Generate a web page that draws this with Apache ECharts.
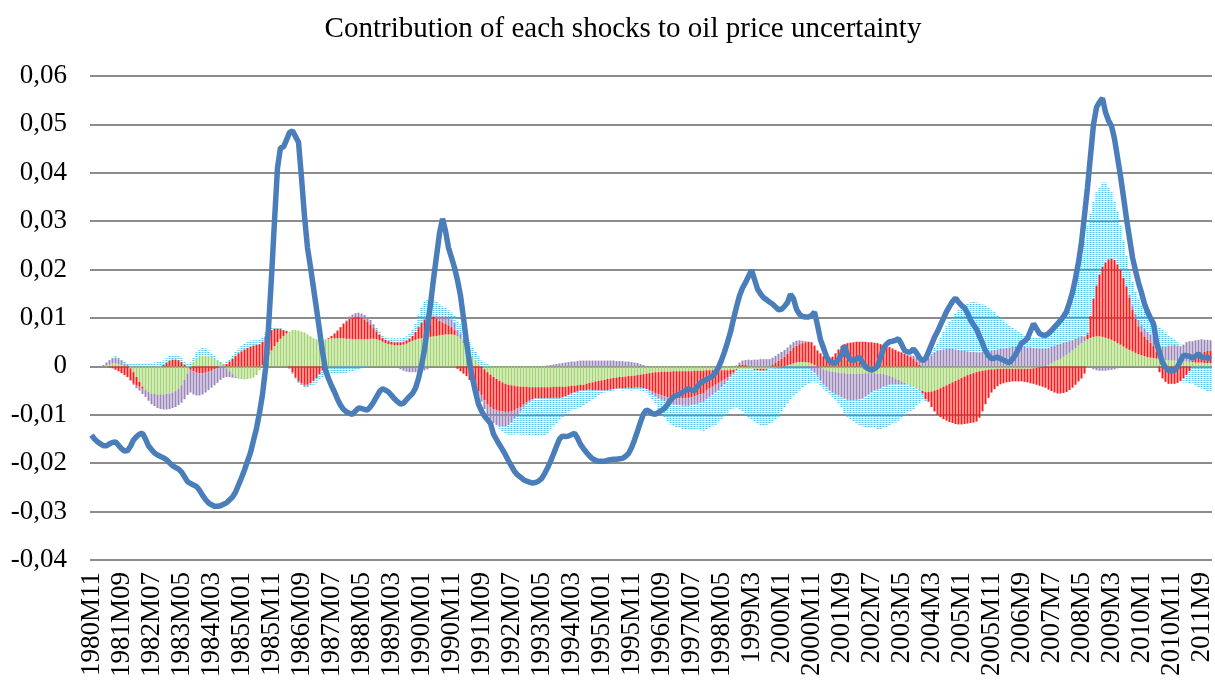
<!DOCTYPE html>
<html>
<head>
<meta charset="utf-8">
<title>Contribution of each shocks to oil price uncertainty</title>
<script src="https://cdn.jsdelivr.net/npm/echarts@6/dist/echarts.min.js"></script>
<style>
  html, body { margin: 0; padding: 0; background: #fff; }
  #chart { width: 1215px; height: 680px; }
</style>
</head>
<body>
<div id="chart"></div>
<script>
// monthly data, 1980M11 .. 2011M12 (374 months)
const firstYear = 1980;
const firstMonth = 11;
const monthCount = 374;

// total uncertainty (line)
const total = [
  -0.0142,-0.0150,-0.0156,-0.0160,-0.0164,-0.0164,-0.0160,-0.0157,-0.0156,-0.0163,
  -0.0170,-0.0175,-0.0174,-0.0165,-0.0152,-0.0145,-0.0140,-0.0138,-0.0150,-0.0164,
  -0.0172,-0.0179,-0.0183,-0.0186,-0.0189,-0.0193,-0.0199,-0.0205,-0.0209,-0.0212,
  -0.0218,-0.0228,-0.0238,-0.0242,-0.0245,-0.0248,-0.0256,-0.0266,-0.0275,-0.0282,
  -0.0286,-0.0289,-0.0289,-0.0288,-0.0285,-0.0282,-0.0276,-0.0270,-0.0260,-0.0245,
  -0.0230,-0.0214,-0.0196,-0.0178,-0.0153,-0.0128,-0.0096,-0.0058,-0.0005,0.0080,
  0.0185,0.0300,0.0410,0.0452,0.0453,0.0468,0.0483,0.0487,0.0475,0.0463,
  0.0390,0.0310,0.0245,0.0205,0.0162,0.0119,0.0075,0.0030,-0.0008,-0.0025,
  -0.0040,-0.0053,-0.0068,-0.0080,-0.0089,-0.0094,-0.0097,-0.0099,-0.0092,-0.0086,
  -0.0087,-0.0089,-0.0090,-0.0083,-0.0074,-0.0063,-0.0052,-0.0046,-0.0049,-0.0053,
  -0.0060,-0.0067,-0.0073,-0.0078,-0.0076,-0.0069,-0.0062,-0.0056,-0.0045,-0.0025,
  0.0002,0.0035,0.0083,0.0128,0.0180,0.0228,0.0275,0.0305,0.0280,0.0245,
  0.0225,0.0204,0.0178,0.0146,0.0100,0.0050,0.0008,-0.0025,-0.0053,-0.0078,
  -0.0092,-0.0103,-0.0110,-0.0118,-0.0140,-0.0151,-0.0162,-0.0172,-0.0183,-0.0195,
  -0.0206,-0.0217,-0.0224,-0.0229,-0.0234,-0.0237,-0.0239,-0.0241,-0.0240,-0.0237,
  -0.0232,-0.0222,-0.0210,-0.0196,-0.0181,-0.0165,-0.0150,-0.0144,-0.0145,-0.0144,
  -0.0141,-0.0138,-0.0148,-0.0161,-0.0170,-0.0178,-0.0185,-0.0191,-0.0194,-0.0196,
  -0.0196,-0.0196,-0.0194,-0.0193,-0.0192,-0.0192,-0.0191,-0.0190,-0.0186,-0.0180,
  -0.0168,-0.0152,-0.0134,-0.0115,-0.0098,-0.0090,-0.0093,-0.0098,-0.0099,-0.0095,
  -0.0091,-0.0087,-0.0079,-0.0070,-0.0063,-0.0060,-0.0057,-0.0054,-0.0050,-0.0046,
  -0.0049,-0.0050,-0.0041,-0.0034,-0.0030,-0.0027,-0.0024,-0.0020,-0.0013,-0.0002,
  0.0013,0.0030,0.0050,0.0071,0.0098,0.0123,0.0146,0.0162,0.0173,0.0186,
  0.0199,0.0180,0.0160,0.0150,0.0142,0.0138,0.0133,0.0129,0.0123,0.0117,
  0.0118,0.0124,0.0132,0.0149,0.0140,0.0118,0.0108,0.0103,0.0102,0.0102,
  0.0105,0.0112,0.0085,0.0055,0.0038,0.0020,0.0011,0.0007,0.0008,0.0014,
  0.0024,0.0043,0.0023,0.0014,0.0012,0.0016,0.0019,0.0008,-0.0001,-0.0005,
  -0.0008,-0.0005,0.0000,0.0018,0.0038,0.0046,0.0051,0.0052,0.0054,0.0057,
  0.0046,0.0033,0.0030,0.0030,0.0036,0.0028,0.0018,0.0012,0.0016,0.0030,
  0.0045,0.0060,0.0072,0.0086,0.0099,0.0113,0.0124,0.0134,0.0141,0.0133,
  0.0126,0.0121,0.0110,0.0096,0.0086,0.0077,0.0062,0.0048,0.0032,0.0022,
  0.0016,0.0017,0.0019,0.0016,0.0013,0.0010,0.0008,0.0015,0.0024,0.0036,
  0.0048,0.0052,0.0058,0.0073,0.0088,0.0078,0.0068,0.0065,0.0064,0.0068,
  0.0074,0.0081,0.0088,0.0095,0.0103,0.0113,0.0132,0.0153,0.0182,0.0215,
  0.0256,0.0312,0.0370,0.0435,0.0500,0.0535,0.0546,0.0554,0.0525,0.0508,
  0.0497,0.0470,0.0432,0.0393,0.0350,0.0305,0.0265,0.0225,0.0198,0.0173,
  0.0152,0.0129,0.0113,0.0100,0.0088,0.0050,0.0028,0.0008,-0.0002,-0.0008,
  -0.0010,-0.0008,-0.0001,0.0012,0.0023,0.0022,0.0021,0.0017,0.0021,0.0026,
  0.0019,0.0018,0.0019,0.0014
];

// shock contributions (stacked bars)
const greenShock = [
  0,0,0,0,0,0.0002,0.0004,0.0006,0.0006,0.0005,
  0.0003,0.0001,0,-0.0004,-0.0012,-0.0022,-0.0032,-0.0042,-0.0049,-0.0053,
  -0.0056,-0.0057,-0.0058,-0.0058,-0.0058,-0.0057,-0.0056,-0.0054,-0.0051,-0.0046,
  -0.0039,-0.0028,-0.0015,-0.0002,0.0009,0.0016,0.0020,0.0022,0.0022,0.0021,
  0.0019,0.0016,0.0012,0.0007,0.0002,-0.0004,-0.0010,-0.0016,-0.0021,-0.0024,
  -0.0026,-0.0027,-0.0026,-0.0025,-0.0023,-0.0018,-0.0008,0.0003,0.0013,0.0023,
  0.0033,0.0042,0.0050,0.0057,0.0063,0.0068,0.0072,0.0075,0.0075,0.0074,
  0.0072,0.0070,0.0066,0.0062,0.0058,0.0056,0.0055,0.0055,0.0056,0.0057,
  0.0058,0.0058,0.0058,0.0058,0.0058,0.0057,0.0057,0.0056,0.0056,0.0056,
  0.0056,0.0056,0.0056,0.0057,0.0057,0.0056,0.0054,0.0051,0.0048,0.0046,
  0.0045,0.0044,0.0044,0.0044,0.0045,0.0047,0.0050,0.0053,0.0055,0.0057,
  0.0058,0.0059,0.0060,0.0061,0.0062,0.0063,0.0064,0.0065,0.0066,0.0066,
  0.0066,0.0065,0.0062,0.0057,0.0048,0.0038,0.0028,0.0020,0.0012,0.0006,
  0,-0.0006,-0.0012,-0.0017,-0.0022,-0.0026,-0.0030,-0.0033,-0.0036,-0.0038,
  -0.0039,-0.0040,-0.0041,-0.0042,-0.0042,-0.0042,-0.0043,-0.0043,-0.0043,-0.0043,
  -0.0043,-0.0043,-0.0043,-0.0043,-0.0042,-0.0042,-0.0042,-0.0042,-0.0042,-0.0041,
  -0.0040,-0.0040,-0.0039,-0.0038,-0.0038,-0.0036,-0.0034,-0.0033,-0.0031,-0.0030,
  -0.0029,-0.0028,-0.0026,-0.0025,-0.0024,-0.0023,-0.0022,-0.0022,-0.0021,-0.0020,
  -0.0020,-0.0019,-0.0018,-0.0017,-0.0016,-0.0015,-0.0014,-0.0013,-0.0012,-0.0012,
  -0.0011,-0.0011,-0.0011,-0.0011,-0.0010,-0.0010,-0.0010,-0.0010,-0.0010,-0.0010,
  -0.0010,-0.0009,-0.0009,-0.0009,-0.0009,-0.0008,-0.0008,-0.0008,-0.0008,-0.0008,
  -0.0008,-0.0008,-0.0008,-0.0007,-0.0007,-0.0006,-0.0006,-0.0006,-0.0006,-0.0006,
  -0.0005,-0.0005,-0.0005,-0.0005,-0.0005,-0.0005,-0.0004,-0.0004,-0.0003,-0.0002,
  -0.0001,0,0.0002,0.0004,0.0006,0.0008,0.0009,0.0009,0.0009,0.0008,
  0.0006,0.0003,0,-0.0003,-0.0006,-0.0008,-0.0010,-0.0011,-0.0012,-0.0013,
  -0.0014,-0.0014,-0.0015,-0.0015,-0.0015,-0.0015,-0.0015,-0.0015,-0.0014,-0.0014,
  -0.0014,-0.0014,-0.0015,-0.0015,-0.0016,-0.0018,-0.0020,-0.0022,-0.0025,-0.0028,
  -0.0031,-0.0034,-0.0037,-0.0040,-0.0043,-0.0046,-0.0049,-0.0051,-0.0053,-0.0053,
  -0.0052,-0.0050,-0.0048,-0.0045,-0.0042,-0.0039,-0.0036,-0.0033,-0.0030,-0.0027,
  -0.0024,-0.0021,-0.0018,-0.0016,-0.0014,-0.0012,-0.0010,-0.0009,-0.0008,-0.0007,
  -0.0006,-0.0006,-0.0005,-0.0005,-0.0005,-0.0005,-0.0005,-0.0005,-0.0005,-0.0005,
  -0.0005,-0.0005,-0.0005,-0.0005,-0.0004,-0.0003,-0.0002,-0.0001,0,0.0003,
  0.0006,0.0010,0.0013,0.0016,0.0020,0.0024,0.0028,0.0033,0.0038,0.0043,
  0.0048,0.0052,0.0056,0.0059,0.0061,0.0062,0.0062,0.0061,0.0059,0.0057,
  0.0055,0.0052,0.0048,0.0045,0.0041,0.0037,0.0034,0.0031,0.0028,0.0025,
  0.0023,0.0021,0.0019,0.0018,0.0017,0.0016,0.0015,0.0014,0.0013,0.0013,
  0.0012,0.0012,0.0011,0.0011,0.0010,0.0010,0.0009,0.0009,0.0008,0.0008,
  0.0008,0.0007,0.0007,0.0007
];

const redShock = [
  0,0,0,0,0,0,-0.0002,-0.0004,-0.0007,-0.0010,
  -0.0014,-0.0018,-0.0022,-0.0025,-0.0024,-0.0018,-0.0010,-0.0004,0,0,
  0,0,0,0,0.0003,0.0008,0.0012,0.0014,0.0014,0.0013,
  0.0009,0.0004,0,-0.0005,-0.0010,-0.0013,-0.0014,-0.0014,-0.0013,-0.0011,
  -0.0009,-0.0006,-0.0003,0,0.0002,0.0005,0.0010,0.0016,0.0022,0.0027,
  0.0031,0.0035,0.0038,0.0041,0.0043,0.0044,0.0046,0.0048,0.0048,0.0046,
  0.0042,0.0036,0.0028,0.0020,0.0012,0.0005,-0.0003,-0.0012,-0.0022,-0.0030,
  -0.0035,-0.0038,-0.0038,-0.0035,-0.0030,-0.0024,-0.0016,-0.0008,-0.0002,0.0002,
  0.0005,0.0010,0.0016,0.0023,0.0030,0.0036,0.0041,0.0044,0.0046,0.0046,
  0.0044,0.0041,0.0037,0.0030,0.0022,0.0015,0.0011,0.0008,0.0007,0.0006,
  0.0006,0.0006,0.0006,0.0006,0.0006,0.0007,0.0008,0.0010,0.0016,0.0024,
  0.0032,0.0038,0.0041,0.0042,0.0041,0.0036,0.0030,0.0026,0.0023,0.0019,
  0.0015,0.0010,-0.0005,-0.0010,-0.0015,-0.0020,-0.0028,-0.0036,-0.0044,-0.0052,
  -0.0059,-0.0064,-0.0067,-0.0068,-0.0067,-0.0065,-0.0062,-0.0060,-0.0058,-0.0056,
  -0.0053,-0.0050,-0.0046,-0.0042,-0.0037,-0.0032,-0.0028,-0.0025,-0.0023,-0.0023,
  -0.0023,-0.0023,-0.0023,-0.0023,-0.0023,-0.0023,-0.0023,-0.0022,-0.0020,-0.0018,
  -0.0016,-0.0014,-0.0013,-0.0012,-0.0012,-0.0013,-0.0014,-0.0016,-0.0018,-0.0020,
  -0.0021,-0.0022,-0.0023,-0.0023,-0.0023,-0.0023,-0.0023,-0.0024,-0.0024,-0.0024,
  -0.0025,-0.0025,-0.0026,-0.0027,-0.0029,-0.0032,-0.0035,-0.0039,-0.0043,-0.0046,
  -0.0049,-0.0051,-0.0053,-0.0054,-0.0055,-0.0056,-0.0056,-0.0056,-0.0056,-0.0055,
  -0.0054,-0.0053,-0.0051,-0.0049,-0.0046,-0.0042,-0.0038,-0.0034,-0.0030,-0.0026,
  -0.0022,-0.0018,-0.0014,-0.0010,-0.0006,-0.0002,0.0003,0.0004,0.0003,0.0002,
  0,-0.0002,-0.0003,-0.0004,-0.0004,-0.0002,0,0.0003,0.0007,0.0012,
  0.0016,0.0020,0.0024,0.0028,0.0032,0.0035,0.0037,0.0039,0.0041,0.0043,
  0.0044,0.0040,0.0033,0.0027,0.0021,0.0017,0.0016,0.0020,0.0027,0.0035,
  0.0042,0.0046,0.0048,0.0049,0.0050,0.0051,0.0051,0.0051,0.0051,0.0050,
  0.0050,0.0049,0.0048,0.0046,0.0044,0.0042,0.0040,0.0037,0.0034,0.0031,
  0.0029,0.0026,0.0023,0.0020,0.0016,0.0010,0.0003,-0.0005,-0.0015,-0.0020,
  -0.0032,-0.0043,-0.0052,-0.0060,-0.0067,-0.0073,-0.0079,-0.0084,-0.0089,-0.0093,
  -0.0096,-0.0098,-0.0100,-0.0101,-0.0102,-0.0102,-0.0096,-0.0084,-0.0070,-0.0058,
  -0.0048,-0.0041,-0.0036,-0.0032,-0.0030,-0.0028,-0.0027,-0.0026,-0.0026,-0.0026,
  -0.0026,-0.0027,-0.0028,-0.0030,-0.0032,-0.0035,-0.0038,-0.0041,-0.0044,-0.0048,
  -0.0051,-0.0054,-0.0056,-0.0056,-0.0055,-0.0053,-0.0049,-0.0044,-0.0038,-0.0031,
  -0.0025,-0.0015,0.0010,0.0045,0.0079,0.0105,0.0128,0.0145,0.0156,0.0164,
  0.0168,0.0168,0.0163,0.0154,0.0142,0.0127,0.0108,0.0086,0.0070,0.0058,
  0.0048,0.0041,0.0036,0.0031,0.0025,0.0015,-0.0012,-0.0025,-0.0032,-0.0036,
  -0.0036,-0.0036,-0.0034,-0.0030,-0.0025,-0.0018,-0.0010,0.0003,0.0010,0.0015,
  0.0020,0.0023,0.0025,0.0025
];

const purpleShock = [
  0,0,0,0,0.0003,0.0006,0.0009,0.0011,0.0012,0.0010,
  0.0008,0.0005,0.0003,0,-0.0002,-0.0005,-0.0008,-0.0011,-0.0014,-0.0018,
  -0.0022,-0.0025,-0.0028,-0.0030,-0.0031,-0.0032,-0.0032,-0.0032,-0.0033,-0.0034,
  -0.0036,-0.0040,-0.0044,-0.0047,-0.0048,-0.0047,-0.0046,-0.0044,-0.0041,-0.0038,
  -0.0035,-0.0033,-0.0031,-0.0028,-0.0024,-0.0018,-0.0012,-0.0007,-0.0003,-0.0001,
  0,0,0,0,0,0,0,0,0,0,
  0,0,0,0,0,0,-0.0002,-0.0003,-0.0003,-0.0003,
  -0.0003,-0.0003,-0.0002,0,0,0,0,0,0,0,
  0,0,0,0,0.0001,0.0002,0.0005,0.0007,0.0008,0.0009,
  0.0009,0.0009,0.0008,0.0009,0.0008,0.0005,0.0002,0,0,0,
  0,0,-0.0003,-0.0006,-0.0009,-0.0011,-0.0012,-0.0012,-0.0012,-0.0011,
  -0.0010,-0.0008,-0.0006,-0.0003,0.0002,0.0006,0.0010,0.0013,0.0015,0.0016,
  0.0016,0.0015,0.0013,0.0011,0.0008,0.0005,0.0002,-0.0002,-0.0006,-0.0010,
  -0.0014,-0.0018,-0.0021,-0.0025,-0.0028,-0.0030,-0.0031,-0.0031,-0.0030,-0.0027,
  -0.0023,-0.0018,-0.0013,-0.0009,-0.0006,-0.0004,-0.0002,0,0,0,
  0,0.0001,0.0002,0.0003,0.0004,0.0005,0.0006,0.0007,0.0008,0.0009,
  0.0010,0.0010,0.0011,0.0012,0.0012,0.0012,0.0012,0.0012,0.0012,0.0012,
  0.0012,0.0012,0.0012,0.0012,0.0012,0.0011,0.0011,0.0011,0.0010,0.0010,
  0.0009,0.0008,0.0007,0.0005,0.0003,0.0001,-0.0003,-0.0005,-0.0007,-0.0008,
  -0.0009,-0.0010,-0.0011,-0.0012,-0.0013,-0.0014,-0.0014,-0.0015,-0.0015,-0.0016,
  -0.0016,-0.0017,-0.0017,-0.0017,-0.0018,-0.0018,-0.0018,-0.0017,-0.0016,-0.0015,
  -0.0013,-0.0011,-0.0008,-0.0005,-0.0002,0.0002,0.0005,0.0008,0.0010,0.0012,
  0.0013,0.0014,0.0014,0.0015,0.0015,0.0015,0.0015,0.0015,0.0015,0.0014,
  0.0014,0.0014,0.0013,0.0013,0.0012,0.0010,0.0008,0.0005,0.0002,-0.0002,
  -0.0007,-0.0013,-0.0019,-0.0025,-0.0030,-0.0035,-0.0039,-0.0042,-0.0045,-0.0047,
  -0.0050,-0.0053,-0.0054,-0.0055,-0.0055,-0.0054,-0.0053,-0.0051,-0.0048,-0.0044,
  -0.0040,-0.0036,-0.0033,-0.0030,-0.0026,-0.0022,-0.0018,-0.0015,-0.0012,-0.0009,
  -0.0006,-0.0003,0,0.0003,0.0006,0.0009,0.0012,0.0014,0.0016,0.0018,
  0.0023,0.0028,0.0032,0.0034,0.0035,0.0036,0.0036,0.0036,0.0035,0.0034,
  0.0033,0.0032,0.0031,0.0030,0.0030,0.0029,0.0029,0.0030,0.0031,0.0032,
  0.0033,0.0034,0.0035,0.0036,0.0037,0.0038,0.0039,0.0040,0.0040,0.0040,
  0.0040,0.0040,0.0039,0.0039,0.0038,0.0038,0.0037,0.0037,0.0036,0.0035,
  0.0034,0.0033,0.0032,0.0031,0.0029,0.0027,0.0024,0.0021,0.0019,0.0017,
  0.0015,0.0010,0.0003,-0.0003,-0.0006,-0.0008,-0.0009,-0.0009,-0.0009,-0.0008,
  -0.0007,-0.0006,-0.0004,-0.0002,0,0.0003,0.0006,0.0009,0.0011,0.0013,
  0.0014,0.0015,0.0016,0.0017,0.0019,0.0021,0.0024,0.0026,0.0028,0.0030,
  0.0031,0.0032,0.0032,0.0030,0.0035,0.0040,0.0043,0.0040,0.0036,0.0032,
  0.0028,0.0025,0.0023,0.0022
];

const blueShock = [
  0,0,0,0,0,0,0,0.0003,0.0003,0.0003,
  0.0003,0.0004,0.0004,0.0005,0.0005,0.0005,0.0005,0.0005,0.0006,0.0006,
  0.0007,0.0008,0.0009,0.0009,0.0009,0.0009,0.0010,0.0010,0.0010,0.0009,
  0.0008,0.0007,0.0007,0.0008,0.0010,0.0013,0.0015,0.0016,0.0015,0.0012,
  0.0009,0.0006,0.0004,0.0003,0.0003,0.0004,0.0005,0.0006,0.0008,0.0010,
  0.0011,0.0012,0.0012,0.0012,0.0011,0.0010,0.0010,0.0010,0.0009,0.0008,
  0.0006,0.0004,0.0003,0.0002,0.0001,0.0001,0,0,0,-0.0001,
  -0.0002,-0.0003,-0.0004,-0.0006,-0.0008,-0.0010,-0.0012,-0.0014,-0.0015,-0.0016,
  -0.0016,-0.0016,-0.0016,-0.0015,-0.0014,-0.0013,-0.0012,-0.0010,-0.0008,-0.0006,
  -0.0004,-0.0002,0,0,0.0002,0.0004,0.0005,0.0006,0.0006,0.0006,
  0.0007,0.0008,0.0008,0.0008,0.0008,0.0008,0.0009,0.0012,0.0018,0.0026,
  0.0033,0.0037,0.0038,0.0036,0.0033,0.0028,0.0024,0.0020,0.0017,0.0015,
  0.0014,0.0015,0.0017,0.0019,0.0021,0.0023,0.0023,0.0020,0.0018,0.0015,
  0.0012,0.0008,0.0005,0.0002,0,-0.0003,-0.0006,-0.0010,-0.0015,-0.0020,
  -0.0026,-0.0033,-0.0040,-0.0048,-0.0056,-0.0063,-0.0069,-0.0073,-0.0076,-0.0078,
  -0.0078,-0.0076,-0.0072,-0.0066,-0.0059,-0.0052,-0.0046,-0.0041,-0.0038,-0.0036,
  -0.0035,-0.0035,-0.0035,-0.0034,-0.0032,-0.0029,-0.0025,-0.0020,-0.0015,-0.0010,
  -0.0006,-0.0004,-0.0003,-0.0003,-0.0003,-0.0003,-0.0003,-0.0004,-0.0004,-0.0005,
  -0.0005,-0.0005,-0.0005,-0.0006,-0.0006,-0.0007,-0.0010,-0.0013,-0.0016,-0.0022,
  -0.0028,-0.0034,-0.0040,-0.0043,-0.0045,-0.0046,-0.0047,-0.0048,-0.0049,-0.0050,
  -0.0050,-0.0052,-0.0054,-0.0057,-0.0060,-0.0062,-0.0064,-0.0065,-0.0067,-0.0067,
  -0.0066,-0.0066,-0.0066,-0.0068,-0.0072,-0.0076,-0.0082,-0.0088,-0.0094,-0.0099,
  -0.0104,-0.0108,-0.0110,-0.0112,-0.0113,-0.0114,-0.0114,-0.0112,-0.0108,-0.0102,
  -0.0093,-0.0084,-0.0076,-0.0069,-0.0062,-0.0056,-0.0050,-0.0045,-0.0039,-0.0033,
  -0.0026,-0.0020,-0.0015,-0.0012,-0.0010,-0.0009,-0.0009,-0.0010,-0.0013,-0.0018,
  -0.0022,-0.0029,-0.0035,-0.0040,-0.0045,-0.0049,-0.0053,-0.0058,-0.0063,-0.0068,
  -0.0073,-0.0077,-0.0081,-0.0084,-0.0085,-0.0085,-0.0084,-0.0082,-0.0079,-0.0075,
  -0.0070,-0.0064,-0.0058,-0.0052,-0.0045,-0.0036,-0.0026,-0.0014,-0.0005,0.0003,
  0.0006,0.0011,0.0017,0.0027,0.0037,0.0047,0.0057,0.0066,0.0074,0.0082,
  0.0089,0.0095,0.0099,0.0102,0.0103,0.0103,0.0101,0.0098,0.0094,0.0089,
  0.0083,0.0078,0.0071,0.0064,0.0058,0.0052,0.0046,0.0040,0.0036,0.0032,
  0.0028,0.0025,0.0023,0.0022,0.0022,0.0022,0.0024,0.0026,0.0029,0.0030,
  0.0030,0.0037,0.0045,0.0053,0.0063,0.0074,0.0088,0.0101,0.0113,0.0135,
  0.0167,0.0198,0.0221,0.0211,0.0200,0.0193,0.0180,0.0174,0.0165,0.0149,
  0.0137,0.0120,0.0109,0.0091,0.0077,0.0063,0.0052,0.0049,0.0046,0.0044,
  0.0040,0.0038,0.0034,0.0032,0.0031,0.0034,0.0041,0.0035,0.0029,0.0022,
  0.0017,0.0011,0.0007,0.0004,-0.0008,-0.0015,-0.0024,-0.0034,-0.0040,-0.0043,
  -0.0046,-0.0049,-0.0051,-0.0053
];

// month labels: zero-padded before 1999, plain after
const months = [];
for (let k = 0; k < monthCount; k++) {
  const m0 = firstMonth - 1 + k;
  const y = firstYear + Math.floor(m0 / 12);
  const m = (m0 % 12) + 1;
  const mm = (y < 1999 && m < 10) ? '0' + m : String(m);
  months.push(y + 'M' + mm);
}

const yTicks = { min: -0.04, max: 0.06, step: 0.01 };

// dotted fill for the light-blue shock
const dots = document.createElement('canvas');
dots.width = 2;
dots.height = 2;
const dctx = dots.getContext('2d');
dctx.fillStyle = '#45c6f2';
dctx.fillRect(0, 0, 2, 1);

const serif = 'Liberation Serif';

const chart = echarts.init(document.getElementById('chart'));

const barSeries = (name, data, color) => ({
  name: name,
  type: 'bar',
  stack: 'shocks',
  data: data,
  barWidth: 2,
  itemStyle: { color: color },
  emphasis: { disabled: true }
});

chart.setOption({
  animation: false,
  backgroundColor: '#fff',
  title: {
    text: 'Contribution of each shocks to oil price uncertainty',
    left: 618,
    textAlign: 'center',
    top: 10,
    textStyle: { fontFamily: serif, fontSize: 29, fontWeight: 'normal', color: '#000' }
  },
  grid: { left: 90, right: 2, top: 76, bottom: 118 },
  xAxis: {
    type: 'category',
    data: months,
    axisLine: { show: false, onZero: false },
    axisTick: { show: false },
    axisLabel: {
      interval: 9,
      rotate: 90,
      margin: 12,
      fontFamily: serif,
      fontSize: 27,
      color: '#000'
    }
  },
  yAxis: {
    type: 'value',
    min: yTicks.min,
    max: yTicks.max,
    interval: yTicks.step,
    axisLine: { show: false },
    axisTick: { show: false },
    splitLine: { lineStyle: { color: '#8c8c8c', width: 2 } },
    axisLabel: {
      margin: 23,
      fontFamily: serif,
      fontSize: 27,
      color: '#000',
      formatter: v => Math.abs(v) < 1e-9 ? '0' : v.toFixed(2).replace('.', ',')
    }
  },
  series: [
    barSeries('Shock 1', greenShock, '#a2d46e'),
    barSeries('Shock 2', redShock, '#ff1a1a'),
    barSeries('Shock 3', purpleShock, '#9a86b8'),
    barSeries('Shock 4', blueShock, { image: dots, repeat: 'repeat' }),
    {
      name: 'Total',
      type: 'line',
      data: total,
      symbol: 'none',
      z: 5,
      lineStyle: { color: '#4a7ebb', width: 5.5 },
      emphasis: { disabled: true }
    }
  ]
});
</script>
</body>
</html>
